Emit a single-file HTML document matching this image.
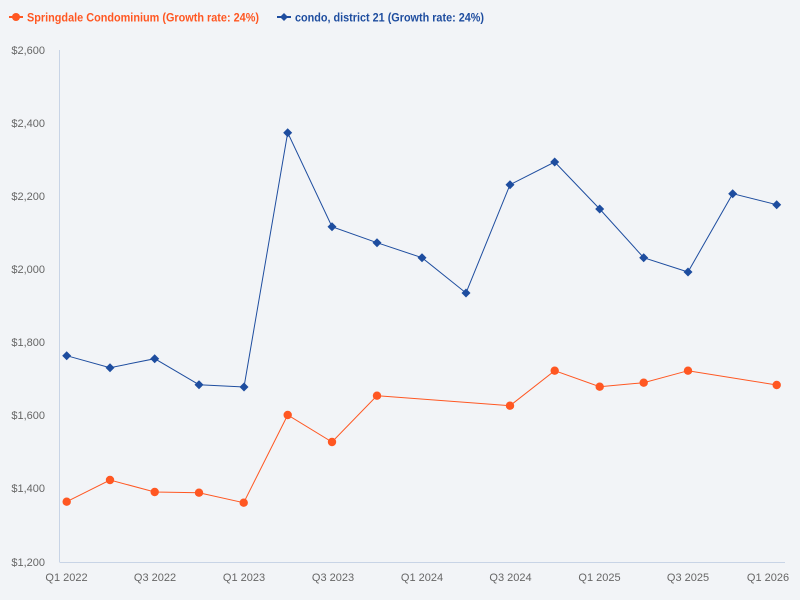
<!DOCTYPE html>
<html><head><meta charset="utf-8"><style>
html,body{margin:0;padding:0;background:#F2F4F7;}
svg{display:block;}
text{font-family:"Liberation Sans","DejaVu Sans",sans-serif;}
</style></head><body>
<svg width="800" height="600" viewBox="0 0 800 600" xmlns="http://www.w3.org/2000/svg">
<rect width="800" height="600" fill="#F2F4F7"/>
<!-- legend -->
<line x1="9" y1="17" x2="23" y2="17" stroke="#FF5722" stroke-width="2"/>
<circle cx="16" cy="17" r="4" fill="#FF5722"/>
<text x="27" y="21.5" font-size="12" font-weight="bold" fill="#FF5722" textLength="232" lengthAdjust="spacingAndGlyphs">Springdale Condominium (Growth rate: 24%)</text>
<line x1="277" y1="17" x2="291" y2="17" stroke="#1E4D9F" stroke-width="2"/>
<path d="M284 13 L288 17 L284 21 L280 17 Z" fill="#1E4D9F"/>
<text x="295" y="21.5" font-size="12" font-weight="bold" fill="#1E4D9F" textLength="189" lengthAdjust="spacingAndGlyphs">condo, district 21 (Growth rate: 24%)</text>
<!-- axes -->
<line x1="59.5" y1="50" x2="59.5" y2="562" stroke="#C8D4E6" stroke-width="1"/>
<line x1="59.5" y1="562.5" x2="785" y2="562.5" stroke="#C8D4E6" stroke-width="1"/>
<!-- y labels -->
<g font-size="11" fill="#666" text-anchor="end">
<text x="45" y="54">$2,600</text>
<text x="45" y="127">$2,400</text>
<text x="45" y="200">$2,200</text>
<text x="45" y="273">$2,000</text>
<text x="45" y="346">$1,800</text>
<text x="45" y="419">$1,600</text>
<text x="45" y="492">$1,400</text>
<text x="45" y="566">$1,200</text>
</g>
<!-- x labels -->
<g font-size="11" fill="#666" text-anchor="middle">
<text x="66.5" y="581">Q1 2022</text>
<text x="155" y="581">Q3 2022</text>
<text x="244" y="581">Q1 2023</text>
<text x="333" y="581">Q3 2023</text>
<text x="422" y="581">Q1 2024</text>
<text x="510.5" y="581">Q3 2024</text>
<text x="599.5" y="581">Q1 2025</text>
<text x="688" y="581">Q3 2025</text>
<text x="768" y="581">Q1 2026</text>
</g>
<!-- blue series -->
<polyline fill="none" stroke="#1E4D9F" stroke-width="1" points="66.7,355.7 110,367.7 154.7,358.7 199,384.7 244,387 287.7,132.7 332,226.7 377,242.7 422,257.7 466,293 510,184.7 554.7,162 599.7,209 643.7,257.7 688,272 732.7,193.7 776.7,204.7"/>
<g fill="#1E4D9F">
<path d="M66.7 351.2 L71.2 355.7 L66.7 360.2 L62.2 355.7Z"/>
<path d="M110 363.2 L114.5 367.7 L110 372.2 L105.5 367.7Z"/>
<path d="M154.7 354.2 L159.2 358.7 L154.7 363.2 L150.2 358.7Z"/>
<path d="M199 380.2 L203.5 384.7 L199 389.2 L194.5 384.7Z"/>
<path d="M244 382.5 L248.5 387 L244 391.5 L239.5 387Z"/>
<path d="M287.7 128.2 L292.2 132.7 L287.7 137.2 L283.2 132.7Z"/>
<path d="M332 222.2 L336.5 226.7 L332 231.2 L327.5 226.7Z"/>
<path d="M377 238.2 L381.5 242.7 L377 247.2 L372.5 242.7Z"/>
<path d="M422 253.2 L426.5 257.7 L422 262.2 L417.5 257.7Z"/>
<path d="M466 288.5 L470.5 293 L466 297.5 L461.5 293Z"/>
<path d="M510 180.2 L514.5 184.7 L510 189.2 L505.5 184.7Z"/>
<path d="M554.7 157.5 L559.2 162 L554.7 166.5 L550.2 162Z"/>
<path d="M599.7 204.5 L604.2 209 L599.7 213.5 L595.2 209Z"/>
<path d="M643.7 253.2 L648.2 257.7 L643.7 262.2 L639.2 257.7Z"/>
<path d="M688 267.5 L692.5 272 L688 276.5 L683.5 272Z"/>
<path d="M732.7 189.2 L737.2 193.7 L732.7 198.2 L728.2 193.7Z"/>
<path d="M776.7 200.2 L781.2 204.7 L776.7 209.2 L772.2 204.7Z"/>
</g>
<!-- orange series -->
<polyline fill="none" stroke="#FF5722" stroke-width="1" points="66.7,501.7 110,480 154.7,492 199,492.7 243.7,502.7 287.7,415 332,442 377,395.7 510,405.7 554.7,370.7 599.7,386.7 643.7,382.7 688,370.7 776.7,385"/>
<g fill="#FF5722">
<circle cx="66.7" cy="501.7" r="4.2"/>
<circle cx="110" cy="480" r="4.2"/>
<circle cx="154.7" cy="492" r="4.2"/>
<circle cx="199" cy="492.7" r="4.2"/>
<circle cx="243.7" cy="502.7" r="4.2"/>
<circle cx="287.7" cy="415" r="4.2"/>
<circle cx="332" cy="442" r="4.2"/>
<circle cx="377" cy="395.7" r="4.2"/>
<circle cx="510" cy="405.7" r="4.2"/>
<circle cx="554.7" cy="370.7" r="4.2"/>
<circle cx="599.7" cy="386.7" r="4.2"/>
<circle cx="643.7" cy="382.7" r="4.2"/>
<circle cx="688" cy="370.7" r="4.2"/>
<circle cx="776.7" cy="385" r="4.2"/>
</g>
</svg>
</body></html>
